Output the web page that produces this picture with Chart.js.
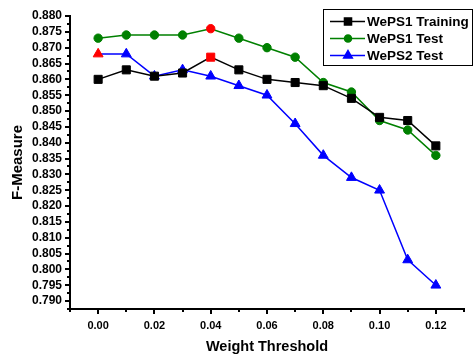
<!DOCTYPE html>
<html>
<head>
<meta charset="utf-8">
<script src="https://cdn.jsdelivr.net/npm/chart.js@4/dist/chart.umd.min.js"></script>
<style>
  html, body { margin: 0; padding: 0; background: #fff; }
  #wrap { width: 474px; height: 356px; }
</style>
</head>
<body>
<div id="wrap"><canvas id="chart" width="474" height="356"></canvas></div>
<script>
"use strict";

// weight thresholds (x)
const thresholds = [0.00, 0.01, 0.02, 0.03, 0.04, 0.05, 0.06, 0.07, 0.08, 0.09, 0.10, 0.11, 0.12];

// F-measure per series
const weps1Training = [0.860, 0.863, 0.861, 0.862, 0.867, 0.863, 0.860, 0.859, 0.858, 0.854, 0.848, 0.847, 0.839];
const weps1Test     = [0.873, 0.874, 0.874, 0.874, 0.876, 0.873, 0.870, 0.867, 0.859, 0.856, 0.847, 0.844, 0.836];
const weps2Test     = [0.868, 0.868, 0.861, 0.863, 0.861, 0.858, 0.855, 0.846, 0.836, 0.829, 0.825, 0.803, 0.795];

// best point of each series is marked in red
const bestIndex = { training: 4, test1: 4, test2: 0 };

// axis ticks
const xTicks = [-0.01, 0.00, 0.01, 0.02, 0.03, 0.04, 0.05, 0.06, 0.07, 0.08, 0.09, 0.10, 0.11, 0.12, 0.13];
const yTicks = [0.790, 0.795, 0.800, 0.805, 0.810, 0.815, 0.820, 0.825, 0.830, 0.835,
                0.840, 0.845, 0.850, 0.855, 0.860, 0.865, 0.870, 0.875, 0.880];

const FONT = '"Liberation Sans", Arial, sans-serif';

const toPoints = vals => vals.map((v, i) => ({x: thresholds[i], y: v}));
const markColors = (best, color) => thresholds.map((_, i) => i === best ? '#ff0000' : color);

const series = [
    {label: 'WePS1 Training', values: weps1Training, color: '#000000', style: 'rect', radius: 5.7, best: bestIndex.training},
    {label: 'WePS1 Test', values: weps1Test, color: '#008000', style: 'circle', radius: 4.2, best: bestIndex.test1},
    {label: 'WePS2 Test', values: weps2Test, color: '#0000ff', style: 'triangle', radius: 5.7, best: bestIndex.test2},
];

// minor + major ticks drawn outward, and the legend box
const decorations = {
    id: 'decorations',
    afterDraw(chart) {
        const ctx = chart.ctx;
        const xs = chart.scales.x, ys = chart.scales.y;
        const area = chart.chartArea;
        ctx.save();
        ctx.strokeStyle = '#000';
        ctx.lineWidth = 2;
        // x ticks
        xTicks.forEach((v, i) => {
            const px = Math.round(xs.getPixelForValue(v));
            const len = i % 2 === 1 ? 5 : 3;
            ctx.beginPath();
            ctx.moveTo(px, area.bottom);
            ctx.lineTo(px, area.bottom + len);
            ctx.stroke();
        });
        // y ticks: major at labels, minor halfway
        yTicks.forEach(v => {
            const py = Math.round(ys.getPixelForValue(v));
            ctx.beginPath();
            ctx.moveTo(area.left, py);
            ctx.lineTo(area.left - 5, py);
            ctx.stroke();
            const mv = v - 0.0025;
            if (mv >= ys.min - 1e-9) {
                const pm = Math.round(ys.getPixelForValue(mv));
                ctx.beginPath();
                ctx.moveTo(area.left, pm);
                ctx.lineTo(area.left - 3, pm);
                ctx.stroke();
            }
        });

        // legend
        const bx = 323, by = 9, bw = 150, bh = 56;
        ctx.lineWidth = 1;
        ctx.strokeRect(bx + 0.5, by + 0.5, bw - 1, bh);
        ctx.font = 'bold 13.5px ' + FONT;
        ctx.textBaseline = 'middle';
        series.forEach((s, i) => {
            const ly = by + 12.5 + i * 17;
            ctx.strokeStyle = s.color;
            ctx.lineWidth = 1.5;
            ctx.beginPath();
            ctx.moveTo(330, ly);
            ctx.lineTo(365, ly);
            ctx.stroke();
            ctx.fillStyle = s.color;
            Chart.helpers.drawPoint(ctx, {pointStyle: s.style, radius: s.radius - 0.7, borderWidth: 1}, 348, ly);
            ctx.fill();
            ctx.fillStyle = '#000';
            ctx.fillText(s.label, 367, ly + 1);
        });
        ctx.restore();
    }
};

new Chart(document.getElementById('chart'), {
    type: 'line',
    data: {
        datasets: series.map(s => ({
            label: s.label,
            data: toPoints(s.values),
            borderColor: s.color,
            borderWidth: 1.5,
            pointStyle: s.style,
            pointRadius: s.radius,
            pointBorderWidth: 1,
            pointBackgroundColor: markColors(s.best, s.color),
            pointBorderColor: markColors(s.best, s.color),
            tension: 0,
            fill: false,
        })),
    },
    options: {
        responsive: false,
        animation: false,
        events: [],
        layout: {padding: {top: 16, right: 6, left: 0, bottom: 0}},
        plugins: {legend: {display: false}, tooltip: {enabled: false}},
        scales: {
            x: {
                type: 'linear',
                min: -0.01,
                max: 0.13,
                afterBuildTicks: scale => { scale.ticks = xTicks.map(v => ({value: v})); },
                afterFit: scale => { scale.height = 47; },
                grid: {display: false, drawTicks: false},
                border: {display: true, color: '#000', width: 2},
                ticks: {
                    autoSkip: false,
                    maxRotation: 0,
                    padding: 10,
                    color: '#000',
                    font: {family: FONT, size: 11, weight: 'bold'},
                    callback: (v, i) => (i % 2 === 1 ? v.toFixed(2) : ''),
                },
                title: {
                    display: true,
                    text: 'Weight Threshold',
                    color: '#000',
                    font: {family: FONT, size: 14.5, weight: 'bold'},
                    padding: {top: 1, bottom: 0},
                },
            },
            y: {
                min: 0.7875,
                max: 0.880,
                afterBuildTicks: scale => { scale.ticks = yTicks.map(v => ({value: v})); },
                afterFit: scale => { scale.width = 70; },
                grid: {display: false, drawTicks: false},
                border: {display: true, color: '#000', width: 2},
                ticks: {
                    autoSkip: false,
                    padding: 8,
                    color: '#000',
                    font: {family: FONT, size: 12, weight: 'bold'},
                    callback: v => v.toFixed(3),
                },
                title: {
                    display: true,
                    text: 'F-Measure',
                    color: '#000',
                    font: {family: FONT, size: 15, weight: 'bold'},
                    padding: {top: 9, bottom: 0},
                },
            },
        },
    },
    plugins: [decorations],
});
</script>
</body>
</html>
